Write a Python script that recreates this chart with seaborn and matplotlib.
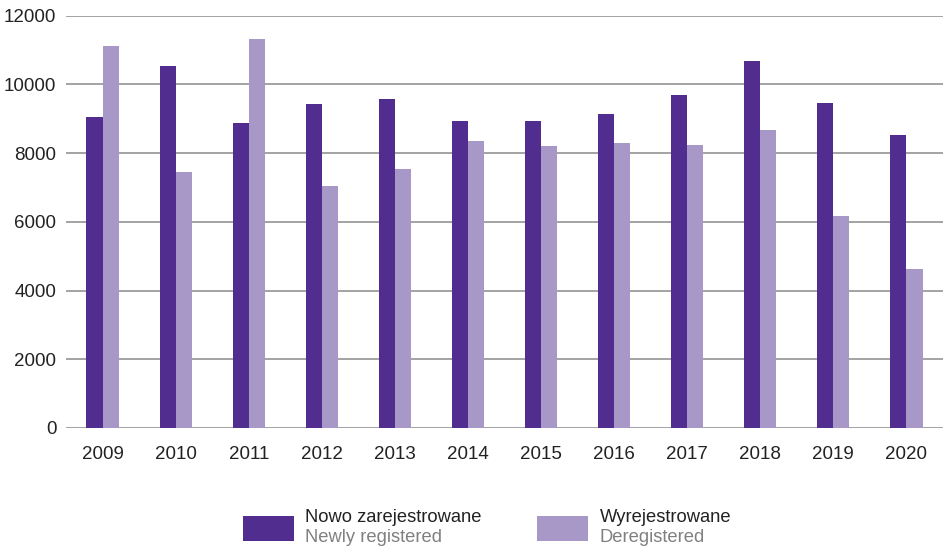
import matplotlib
matplotlib.use("Agg")
import matplotlib.pyplot as plt
import seaborn as sns
import pandas as pd
from matplotlib.patches import Rectangle

years = ["2009", "2010", "2011", "2012", "2013", "2014", "2015", "2016", "2017", "2018", "2019", "2020"]
newly_registered = [9040, 10540, 8880, 9430, 9560, 8920, 8920, 9140, 9680, 10680, 9450, 8520]
deregistered = [11110, 7440, 11310, 7050, 7540, 8340, 8200, 8280, 8230, 8680, 6170, 4630]
series_pl = ["Nowo zarejestrowane", "Wyrejestrowane"]
series_en = ["Newly registered", "Deregistered"]
colors = ["#512D8F", "#A898C8"]
yticks = [0, 2000, 4000, 6000, 8000, 10000, 12000]

df = pd.DataFrame({
    "year": years * 2,
    "value": newly_registered + deregistered,
    "series": [series_pl[0]] * len(years) + [series_pl[1]] * len(years),
})

sns.set_theme(style="white")
plt.rcParams['font.family'] = ['Liberation Sans', 'DejaVu Sans']

fig = plt.figure(figsize=(9.45, 5.47), dpi=100)
ax = fig.add_axes([66 / 945, 1 - 428 / 547, (943 - 66) / 945, (428 - 15.5) / 547])

sns.barplot(data=df, x="year", y="value", hue="series", palette=colors,
            width=0.44, gap=0, linewidth=0, saturation=1, ax=ax, legend=False, zorder=3)

ax.set_ylim(0, 12000)
ax.set_xlim(-0.5, len(years) - 0.5)
ax.set_yticks(yticks)
ax.set_yticklabels([str(t) for t in yticks])
ax.grid(axis="y", color="#939393", linewidth=1.2, zorder=0)
ax.set_axisbelow(True)
for s in ax.spines.values():
    s.set_visible(False)
ax.tick_params(axis="both", length=0, labelsize=13.5, colors="#222222")
ax.tick_params(axis="x", pad=13)
ax.tick_params(axis="y", pad=7)
ax.set_xlabel("")
ax.set_ylabel("")

# legend
W, H = 945, 547
for i, (x0, tx) in enumerate([(243, 305), (537, 600)]):
    fig.add_artist(Rectangle((x0 / W, 1 - 541 / H), 51 / W, 25 / H,
                             transform=fig.transFigure, color=colors[i], linewidth=0))
    fig.text(tx / W, 1 - 518 / H, series_pl[i], fontsize=13.2, color="#222222", va="center", ha="left")
    fig.text(tx / W, 1 - 537.5 / H, series_en[i], fontsize=13.2, color="#808080", va="center", ha="left")

fig.savefig("out.png", dpi=100)
